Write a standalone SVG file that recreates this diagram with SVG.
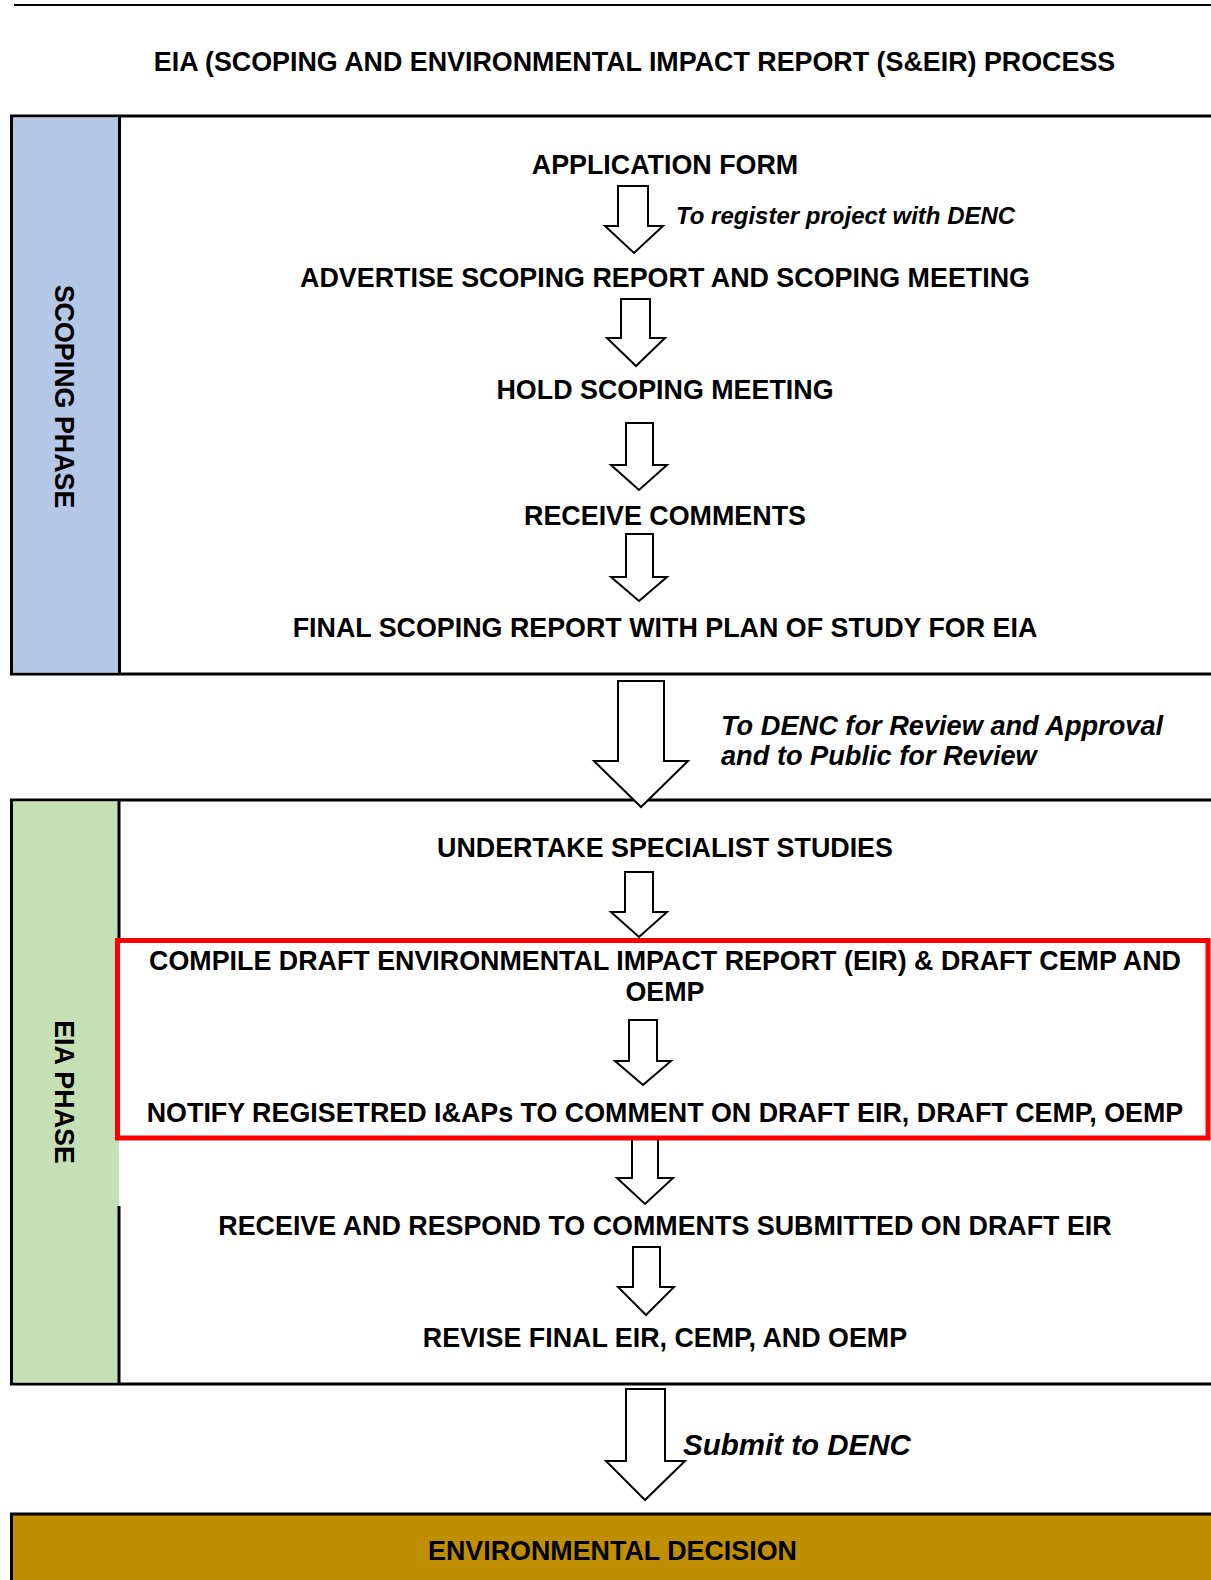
<svg xmlns="http://www.w3.org/2000/svg" width="1211" height="1580" viewBox="0 0 1211 1580">
<style>
.t{font-family:"Liberation Sans",Arial,sans-serif;font-weight:bold;font-size:26.85px;text-anchor:middle;fill:#000}
.i{font-family:"Liberation Sans",Arial,sans-serif;font-weight:bold;font-style:italic;fill:#000}
.box{stroke:#000;stroke-width:3}
.arrow{fill:#fff;stroke:#000;stroke-width:2;stroke-linejoin:miter}
.div{stroke:#000;stroke-width:3}
</style>
<rect x="0" y="0" width="1211" height="1580" fill="#fff"/>
<line x1="14" y1="5" x2="1211" y2="5" stroke="#000" stroke-width="2"/>
<g id="title"><text class="t" x="634.5" y="70.7">EIA (SCOPING AND ENVIRONMENTAL IMPACT REPORT (S&amp;EIR) PROCESS</text></g>

<g id="scoping-phase">
<rect class="box" x="11.5" y="116" width="1203" height="558" fill="#fff"/>
<rect x="13" y="117.5" width="106" height="555" fill="#B4C7E7"/>
<line class="div" x1="119.5" y1="116" x2="119.5" y2="674"/>
<text class="t" transform="translate(55,396.5) rotate(90)">SCOPING PHASE</text>
</g>

<g id="eia-phase">
<rect class="box" x="11.5" y="800" width="1203" height="584" fill="#fff"/>
<rect x="13" y="801.5" width="106" height="581" fill="#C5E0B4"/>
<line class="div" x1="119" y1="800" x2="119" y2="940"/>
<line class="div" x1="119" y1="1206" x2="119" y2="1384"/>
<text class="t" transform="translate(55,1092) rotate(90)">EIA PHASE</text>
</g>

<g id="decision">
<rect class="box" x="11.5" y="1514" width="1203" height="80" fill="#BF8F00"/>
<text class="t" x="612.5" y="1560">ENVIRONMENTAL DECISION</text>
</g>

<g id="application-form"><text class="t" x="665" y="174">APPLICATION FORM</text></g>
<g id="advertise"><text class="t" x="665" y="287">ADVERTISE SCOPING REPORT AND SCOPING MEETING</text></g>
<g id="hold-meeting"><text class="t" x="665" y="399">HOLD SCOPING MEETING</text></g>
<g id="receive-comments"><text class="t" x="665" y="524.5">RECEIVE COMMENTS</text></g>
<g id="final-scoping"><text class="t" x="665" y="636.7">FINAL SCOPING REPORT WITH PLAN OF STUDY FOR EIA</text></g>
<g id="specialist-studies"><text class="t" x="665" y="857.3">UNDERTAKE SPECIALIST STUDIES</text></g>
<g id="receive-respond"><text class="t" x="665" y="1235">RECEIVE AND RESPOND TO COMMENTS SUBMITTED ON DRAFT EIR</text></g>
<g id="revise-final"><text class="t" x="665" y="1346.5">REVISE FINAL EIR, CEMP, AND OEMP</text></g>

<g id="connectors">
<polygon class="arrow" points="618,186 648,186 648,226 663,226 634,253 605,226 618,226"/>
<text class="i" x="676" y="224" font-size="24">To register project with DENC</text>
<polygon class="arrow" points="621,299 650,299 650,338 665,338 636,366 607,338 621,338"/>
<polygon class="arrow" points="626,423 653,423 653,465 667,465 639,490 611,465 626,465"/>
<polygon class="arrow" points="626,534 653,534 653,577 667,577 639,601 611,577 626,577"/>
<polygon class="arrow" points="618,681 664,681 664,761 688,761 641,807 594,761 618,761"/>
<text class="i" x="721" y="735" font-size="27.2">To DENC for Review and Approval</text>
<text class="i" x="721" y="765" font-size="27.2">and to Public for Review</text>
<polygon class="arrow" points="625,872 653,872 653,912 667,912 639,937 611,912 625,912"/>
<polygon class="arrow" points="629,1020 657,1020 657,1061 671,1061 643,1085 615,1061 629,1061"/>
<polygon class="arrow" points="632,1138 658,1138 658,1178 673,1178 645,1204 617,1178 632,1178"/>
<polygon class="arrow" points="633,1247 660,1247 660,1287 674,1287 646,1315 618,1287 633,1287"/>
<polygon class="arrow" points="626,1389 665,1389 665,1461 685,1461 645,1500 606,1461 626,1461"/>
<text class="i" x="683" y="1455" font-size="29.5">Submit to DENC</text>
</g>

<g id="draft-eir-group">
<rect x="117.5" y="940.5" width="1090.5" height="197.5" fill="none" stroke="#FF0000" stroke-width="5"/>
<text class="t" x="665" y="970">COMPILE DRAFT ENVIRONMENTAL IMPACT REPORT (EIR) &amp; DRAFT CEMP AND</text>
<text class="t" x="665" y="1000.5">OEMP</text>
<text class="t" x="665" y="1121.7">NOTIFY REGISETRED I&amp;APs TO COMMENT ON DRAFT EIR, DRAFT CEMP, OEMP</text>
</g>
</svg>
